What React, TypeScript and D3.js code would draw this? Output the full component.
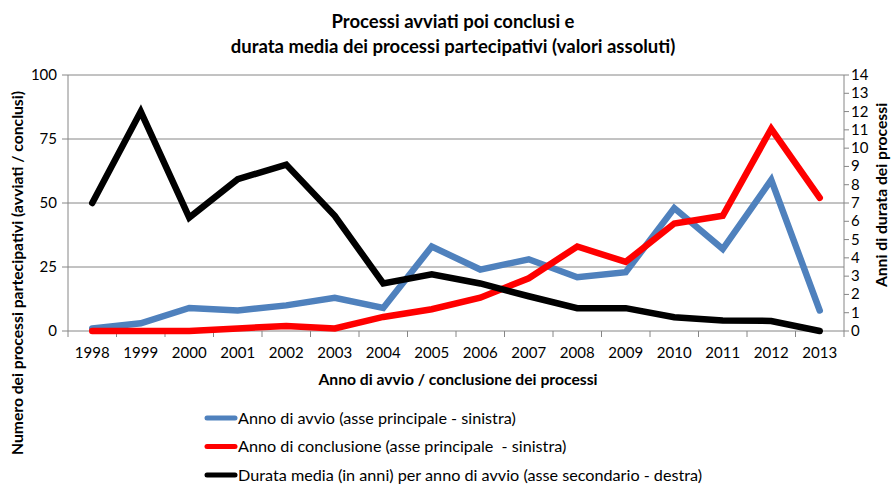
import React from "react";
import * as d3 from "d3";

const years = ["1998","1999","2000","2001","2002","2003","2004","2005","2006","2007","2008","2009","2010","2011","2012","2013"];
const avvio = [1, 3, 9, 8, 10, 13, 9, 33, 24, 28, 21, 23, 48, 32, 59, 8];
const conclusione = [0, 0, 0, 1, 2, 1, 5.5, 8.5, 13, 20.6, 33, 27, 42, 45, 79, 52];
const durata = [7, 12, 6.2, 8.3, 9.1, 6.3, 2.6, 3.1, 2.6, 1.9, 1.25, 1.25, 0.75, 0.58, 0.55, 0];
const leftTicks = [0, 25, 50, 75, 100];
const rightTicks = d3.range(0, 15);

const legendItems = [
  { label: "Anno di avvio (asse principale - sinistra)", color: "#4F81BD" },
  { label: "Anno di conclusione (asse principale  - sinistra)", color: "#FF0000" },
  { label: "Durata media (in anni) per anno di avvio (asse secondario - destra)", color: "#000000" },
];

export default function App() {
  const W = 896, H = 485;
  const L = 68, R = 844, T = 75, B = 331;
  const x = d3.scaleBand().domain(years).range([L, R]);
  const yL = d3.scaleLinear().domain([0, 100]).range([B, T]);
  const yR = d3.scaleLinear().domain([0, 14]).range([B, T]);
  const cx = (i: number) => (x(years[i]) as number) + x.bandwidth() / 2;
  const lineL = d3.line<number>().x((_, i) => cx(i)).y((d) => yL(d));
  const lineR = d3.line<number>().x((_, i) => cx(i)).y((d) => yR(d));
  const font = "Lato, 'Open Sans', sans-serif";
  const grid = "#868686";
  return (
    <svg width={W} height={H} style={{ position: "absolute", left: 0, top: 0, background: "#fff" }} fontFamily={font}>
      <text x={453} y={28} textAnchor="middle" fontSize={18.5} fontWeight="bold">Processi avviati poi conclusi e</text>
      <text x={453} y={53} textAnchor="middle" fontSize={18.5} fontWeight="bold">durata media dei processi partecipativi (valori assoluti)</text>
      {leftTicks.map((t) => (
        <g key={"l" + t}>
          {t > 0 && <line x1={L} x2={R} y1={yL(t)} y2={yL(t)} stroke={grid} strokeWidth={1} />}
          <line x1={L - 6} x2={L} y1={yL(t)} y2={yL(t)} stroke={grid} />
          <text x={57} y={yL(t) + 5} textAnchor="end" fontSize={15}>{t}</text>
        </g>
      ))}
      <line x1={L} x2={L} y1={T} y2={B} stroke={grid} />
      <line x1={R} x2={R} y1={T} y2={B} stroke={grid} />
      <line x1={L} x2={R} y1={B} y2={B} stroke={grid} />
      {rightTicks.map((t) => (
        <g key={"r" + t}>
          <line x1={R} x2={R + 5} y1={yR(t)} y2={yR(t)} stroke={grid} />
          <text x={851} y={yR(t) + 5} textAnchor="start" fontSize={15}>{t}</text>
        </g>
      ))}
      {d3.range(0, years.length + 1).map((i) => (
        <line key={"xt" + i} x1={L + i * x.bandwidth()} x2={L + i * x.bandwidth()} y1={B} y2={B + 6} stroke={grid} />
      ))}
      {years.map((y, i) => (
        <text key={y} x={cx(i)} y={358} textAnchor="middle" fontSize={15}>{y}</text>
      ))}
      <text x={458} y={385} textAnchor="middle" fontSize={15.7} fontWeight="bold">Anno di avvio / conclusione dei processi</text>
      <text transform="translate(23,273) rotate(-90)" textAnchor="middle" fontSize={15.7} fontWeight="bold">Numero dei processi partecipativi (avviati / conclusi)</text>
      <text transform="translate(887,195) rotate(-90)" textAnchor="middle" fontSize={15.7} fontWeight="bold">Anni di durata dei processi</text>
      <path d={lineL(avvio) || ""} fill="none" stroke="#4F81BD" strokeWidth={6.5} strokeLinejoin="miter" strokeLinecap="round" />
      <path d={lineL(conclusione) || ""} fill="none" stroke="#FF0000" strokeWidth={6.5} strokeLinejoin="miter" strokeLinecap="round" />
      <path d={lineR(durata) || ""} fill="none" stroke="#000000" strokeWidth={6.5} strokeLinejoin="miter" strokeLinecap="round" />
      {legendItems.map((it, i) => (
        <g key={it.label}>
          <line x1={207} x2={235} y1={418 + i * 28.5} y2={418 + i * 28.5} stroke={it.color} strokeWidth={5} strokeLinecap="round" />
          <text x={238} y={423.5 + i * 28.5} fontSize={16.2} style={{ whiteSpace: "pre" }}>{it.label}</text>
        </g>
      ))}
    </svg>
  );
}
